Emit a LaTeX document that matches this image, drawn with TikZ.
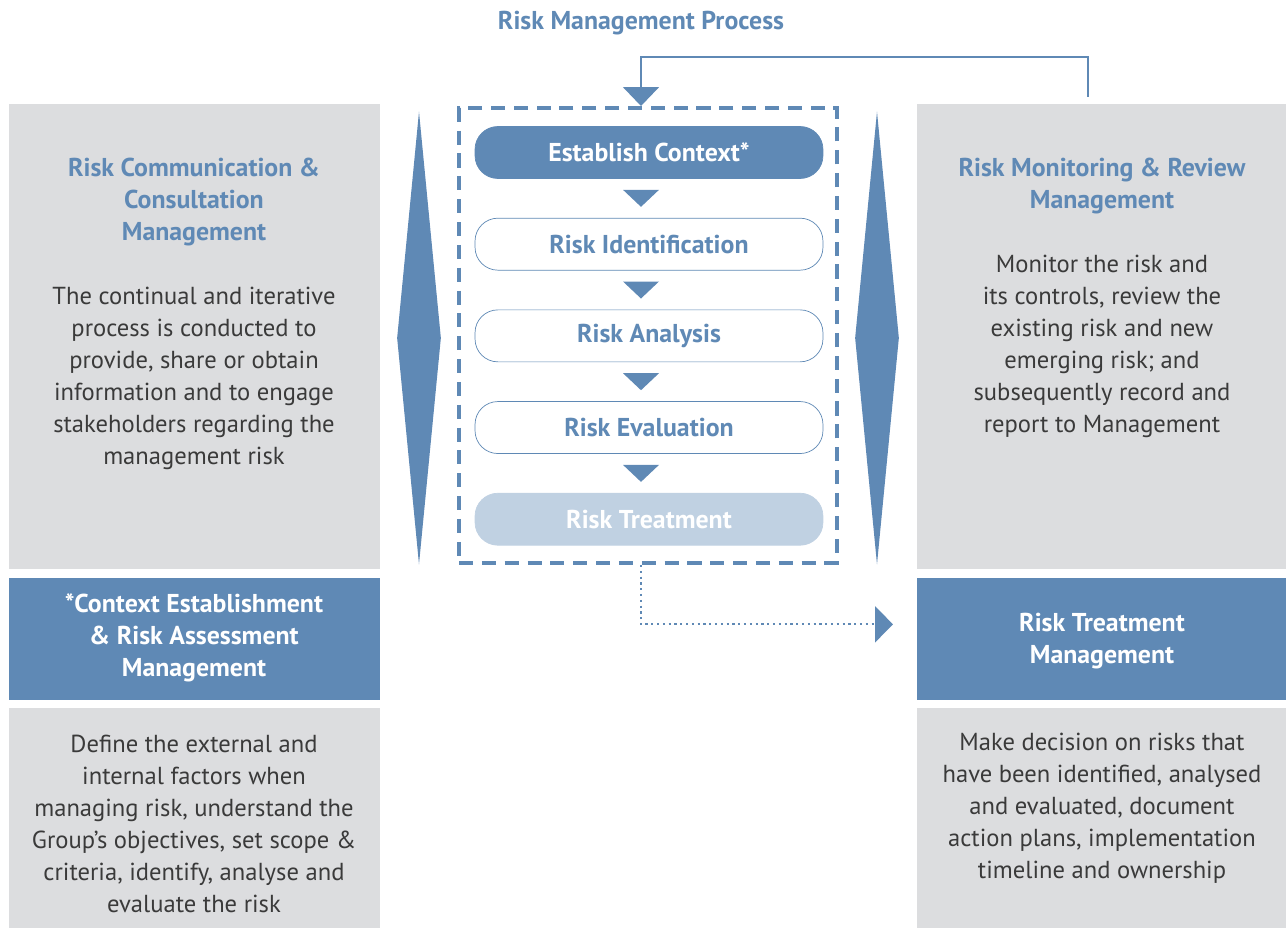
\documentclass[tikz,border=0pt]{standalone}
\usepackage{fontspec}
\setmainfont{PT Sans}
\usetikzlibrary{shapes.geometric,arrows.meta,positioning,calc}
\definecolor{rmblue}{HTML}{5F89B5}
\definecolor{rmpale}{HTML}{C0D1E2}
\definecolor{rmgray}{HTML}{DCDDDF}
\definecolor{rmtext}{HTML}{3A3A3A}
\newcommand{\txtsize}{\fontsize{14.7}{18.2}\selectfont}
\newcommand{\bodysize}{\fontsize{14}{18.2}\selectfont}
\tikzset{
  panel/.style = {rectangle, fill=rmgray, inner sep=0pt, anchor=north west},
  headbox/.style = {rectangle, fill=rmblue, inner sep=0pt, anchor=north west},
  title/.style = {align=center, text=rmblue, font=\txtsize\bfseries},
  body/.style = {align=center, text=rmtext, font=\bodysize},
  headtext/.style = {align=center, text=white, font=\txtsize\bfseries},
  stepbox/.style = {rectangle, draw=rmblue, thin, fill=white, rounded corners=13pt,
    minimum width=6.96cm, minimum height=1.04cm, text=rmblue, font=\txtsize\bfseries},
  dashbox/.style = {rectangle, draw=rmblue, line width=2.3pt, dash pattern=on 8pt off 5pt,
    minimum width=7.56cm, minimum height=9.1cm, inner sep=0pt},
  bigarrow/.style = {diamond, fill=rmblue, inner sep=0pt, minimum width=0.88cm, minimum height=9.06cm},
  loopline/.style = {draw=rmblue, line width=1.1pt, -{Triangle[width=0.72cm,length=0.38cm]}},
  dotline/.style = {draw=rmblue, line width=1.3pt, dotted, -{Triangle[width=0.72cm,length=0.36cm]}}
}

\begin{document}
\begin{tikzpicture}[x=0.02cm, y=-0.02cm, node distance=0.78cm]
\useasboundingbox (0,0) rectangle (1286,928);

\node[title] (proctitle) at (641,23) {Risk Management Process};

% left column
\node[panel, minimum width=7.42cm, minimum height=9.3cm] (commbg) at (9,104) {};
\node[headbox, minimum width=7.42cm, minimum height=2.44cm] (ctxhead) at (9,578) {};
\node[panel, minimum width=7.42cm, minimum height=4.4cm] (ctxbg) at (9,708) {};

\node[title] (commtitle) at (194,202) {Risk Communication \&\\ Consultation\\ Management};
\node[body] (commtext) at (194,378) {The continual and iterative\\ process is conducted to\\ provide, share or obtain\\
  information and to engage\\ stakeholders regarding the\\ management risk};
\node[headtext] (ctxtitle) at (194,638) {*Context Establishment\\ \& Risk Assessment\\ Management};
\node[body] (ctxtext) at (194,824) {Define the external and\\ internal factors when\\ managing risk, understand the\\
  Group’s objectives, set scope \&\\ criteria, identify, analyse and\\ evaluate the risk};

% right column
\node[panel, minimum width=7.38cm, minimum height=9.3cm] (monbg) at (917,104) {};
\node[headbox, minimum width=7.38cm, minimum height=2.44cm] (treathead) at (917,578) {};
\node[panel, minimum width=7.38cm, minimum height=4.4cm] (treatbg) at (917,708) {};

\node[title] (montitle) at (1102,186) {Risk Monitoring \& Review\\ Management};
\node[body] (montext) at (1102,346) {Monitor the risk and\\ its controls, review the\\ existing risk and new\\
  emerging risk; and\\ subsequently record and\\ report to Management};
\node[headtext] (treattitle) at (1102,641) {Risk Treatment\\ Management};
\node[body] (treattext) at (1102,808) {Make decision on risks that\\ have been identified, analysed\\ and evaluated, document\\
  action plans, implementation\\ timeline and ownership};

% process
\node[bigarrow] (leftarrow) at (419,338) {};
\node[bigarrow] (rightarrow) at (877,338) {};
\node[dashbox] (proc) at (648,335.5) {};

\node[stepbox, fill=rmblue, text=white] (ctx) at (649,152.5) {Establish Context*};
\node[stepbox, below=of ctx] (ident) {Risk Identification};
\node[stepbox, below=of ident] (anal) {Risk Analysis};
\node[stepbox, below=of anal] (eval) {Risk Evaluation};
\node[stepbox, below=of eval, draw=rmpale, fill=rmpale, text=white] (treat) {Risk Treatment};

\foreach \a/\b in {ctx/ident, ident/anal, anal/eval, eval/treat}
  \fill[rmblue] ($(\a.south)!0.5!(\b.north)+(-26,-8.5)$) -- ++(36,0) -- ++(-18,17) -- cycle;

\draw[loopline] ($(monbg.north west)+(171,-7)$) -- ++(0,-40) -| ($(proc.north)+(-7,0)$);
\draw[dotline] ($(proc.south)+(-7,0)$) |- ($(treathead.west)+(-24,-15)$);

\end{tikzpicture}
\end{document}
